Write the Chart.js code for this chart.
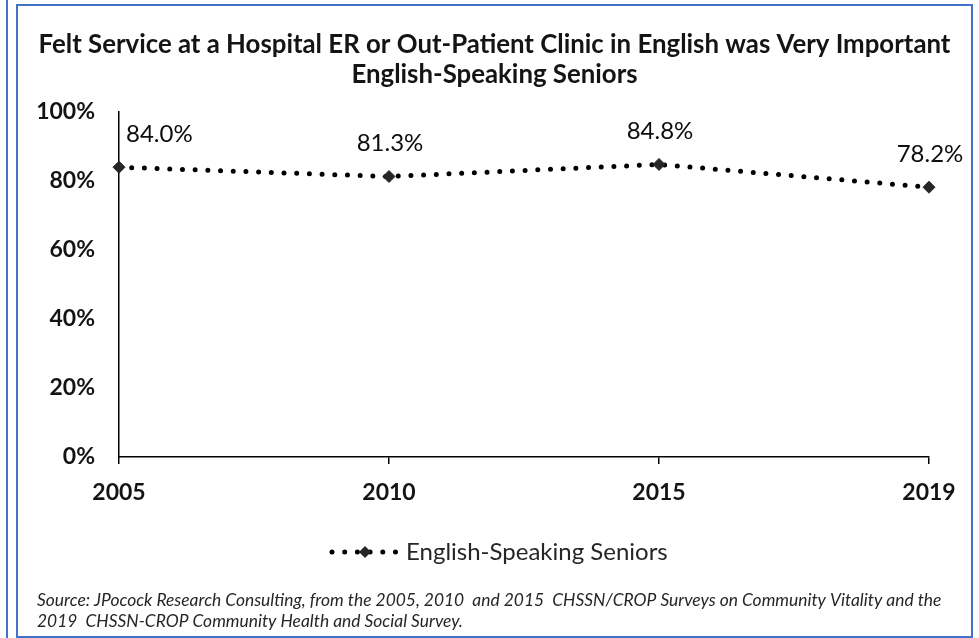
<!DOCTYPE html>
<html>
<head>
<meta charset="utf-8">
<title>Felt Service at a Hospital ER or Out-Patient Clinic in English was Very Important</title>
<script src="https://cdn.jsdelivr.net/npm/chart.js@4.4.1/dist/chart.umd.min.js"></script>
<style>
  html, body { margin: 0; padding: 0; background: #ffffff; width: 979px; height: 638px; overflow: hidden; }
  #wrap { position: relative; width: 979px; height: 638px; }
  #chart { position: absolute; left: 0; top: 0; }
  .rule { position: absolute; left: 6px; top: 0; width: 2px; height: 638px; background: #4472C4; }
  .frame { position: absolute; left: 16px; top: 4px; width: 957px; height: 634px; border: 2px solid #4472C4; box-sizing: border-box; pointer-events: none; }
</style>
</head>
<body>
<div id="wrap">
  <canvas id="chart" width="979" height="638"></canvas>
  <div class="rule"></div>
  <div class="frame"></div>
</div>
<script>
// Survey years on the horizontal axis
const years = ['2005', '2010', '2015', '2019'];
// Share of English-speaking seniors who felt ER / out-patient service in English was very important (%)
const seniorsPct = [84.0, 81.3, 84.8, 78.2];
// Vertical axis tick values (%)
const yTickValues = [0, 20, 40, 60, 80, 100];

const seriesName = 'English-Speaking Seniors';
const titleLines = [
  'Felt Service at a Hospital ER or Out-Patient Clinic in English was Very Important',
  'English-Speaking Seniors'
];
const sourceLines = [
  'Source: JPocock Research Consulting, from the 2005, 2010  and 2015  CHSSN/CROP Surveys on Community Vitality and the',
  '2019  CHSSN-CROP Community Health and Social Survey.'
];

const FONT = 'Lato, "Open Sans", "DejaVu Sans", sans-serif';
const INK = '#141414';
const DOT_DASH = [0, 12.7];

// Value labels above each marker
const valueLabels = {
  id: 'valueLabels',
  afterDatasetsDraw(chart) {
    const ctx = chart.ctx;
    const meta = chart.getDatasetMeta(0);
    const data = chart.data.datasets[0].data;
    ctx.save();
    ctx.font = 'normal 24px ' + FONT;
    ctx.fillStyle = '#0d0d0d';
    ctx.textBaseline = 'middle';
    meta.data.forEach((pt, i) => {
      const txt = data[i].toFixed(1) + '%';
      if (i === 0) {
        ctx.textAlign = 'left';
        ctx.fillText(txt, pt.x + 7, pt.y - 33);
      } else {
        ctx.textAlign = 'center';
        ctx.fillText(txt, pt.x + 1, pt.y - 33);
      }
    });
    ctx.restore();
  }
};

// Legend key (dotted line with diamond) and the source note
const footer = {
  id: 'footer',
  afterDraw(chart) {
    const ctx = chart.ctx;
    const ds = chart.data.datasets[0];
    ctx.save();
    // legend key
    const ly = 552;
    ctx.strokeStyle = ds.borderColor;
    ctx.lineWidth = ds.borderWidth;
    ctx.lineCap = 'round';
    ctx.setLineDash(DOT_DASH);
    ctx.beginPath();
    ctx.moveTo(332, ly);
    ctx.lineTo(397, ly);
    ctx.stroke();
    ctx.setLineDash([]);
    ctx.fillStyle = ds.pointBackgroundColor;
    ctx.beginPath();
    ctx.moveTo(365 - 6, ly);
    ctx.lineTo(365, ly - 6);
    ctx.lineTo(365 + 6, ly);
    ctx.lineTo(365, ly + 6);
    ctx.closePath();
    ctx.fill();
    ctx.font = 'normal 24px ' + FONT;
    ctx.fillStyle = '#262626';
    ctx.textAlign = 'left';
    ctx.textBaseline = 'middle';
    ctx.fillText(seriesName, 406, ly);
    // source note
    ctx.font = 'italic 17.4px ' + FONT;
    ctx.fillStyle = '#262626';
    sourceLines.forEach((line, i) => ctx.fillText(line, 37, 600 + i * 21));
    ctx.restore();
  }
};

new Chart(document.getElementById('chart'), {
  type: 'line',
  data: {
    labels: years,
    datasets: [{
      label: seriesName,
      data: seniorsPct,
      borderColor: '#000000',
      borderWidth: 5,
      borderDash: DOT_DASH,
      borderCapStyle: 'round',
      tension: 0,
      fill: false,
      pointStyle: 'rectRot',
      pointRadius: 6,
      pointHoverRadius: 6,
      pointBackgroundColor: '#262626',
      pointBorderColor: '#262626',
      pointBorderWidth: 1
    }]
  },
  options: {
    responsive: false,
    animation: false,
    events: [],
    layout: { padding: { left: 10, right: 0, top: 0, bottom: 131 } },
    plugins: {
      legend: { display: false },
      tooltip: { enabled: false },
      title: {
        display: true,
        text: titleLines,
        color: INK,
        font: { family: FONT, size: 25.8, weight: 'bold', lineHeight: '30px' },
        padding: { top: 30, bottom: 22 }
      }
    },
    scales: {
      x: {
        type: 'category',
        offset: false,
        grid: { display: true, drawOnChartArea: false, drawTicks: true, tickLength: 7, color: '#000000', lineWidth: 1.5 },
        border: { display: true, color: '#000000', width: 1.5 },
        ticks: { color: INK, font: { family: FONT, size: 23, weight: 'bold' }, padding: 15, maxRotation: 0, autoSkip: false },
        afterFit(scale) { scale.height = 50; }
      },
      y: {
        min: 0,
        max: 100,
        grid: { display: false, drawTicks: false },
        border: { display: true, color: '#000000', width: 1.5 },
        afterBuildTicks(scale) { scale.ticks = yTickValues.map(v => ({ value: v })); },
        ticks: {
          color: INK,
          font: { family: FONT, size: 23, weight: 'bold' },
          padding: 24,
          callback: v => v + '%'
        },
        afterFit(scale) { scale.width = 109; }
      },
      // empty right-hand gutter so the plot ends where the last year sits
      gutter: {
        type: 'linear',
        position: 'right',
        display: true,
        grid: { display: false, drawTicks: false },
        border: { display: false },
        ticks: { display: false },
        afterFit(scale) { scale.width = 50; }
      }
    }
  },
  plugins: [valueLabels, footer]
});
</script>
</body>
</html>
